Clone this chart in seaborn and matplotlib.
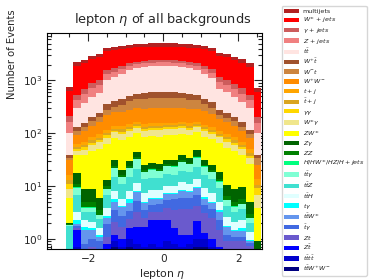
import numpy as np
import pandas as pd
import matplotlib
matplotlib.use("Agg")
import matplotlib.pyplot as plt
from matplotlib.ticker import MultipleLocator
import seaborn as sns

# 26 bins of lepton eta, width 0.2
bin_edges = list(np.linspace(-2.6, 2.6, 27))

# events per bin for every background
multijets = [120, 330, 340, 360, 400, 500, 520, 540, 560, 600, 650, 700, 720, 720, 700, 660, 610, 570, 540, 500, 400, 380, 360, 340, 300, 120]
w_jets = [420, 1350, 1450, 1650, 1750, 2000, 2000, 2000, 1990, 1950, 1900, 1900, 1880, 1880, 1900, 1900, 1950, 1990, 2000, 2000, 1750, 1700, 1550, 1450, 1300, 400]
gamma_jets = [50, 105, 135, 180, 200, 240, 245, 248, 248, 252, 254, 254, 254, 254, 254, 252, 250, 248, 245, 240, 200, 190, 170, 140, 110, 48]
z_jets = [60, 125, 165, 220, 250, 290, 295, 302, 302, 308, 311, 311, 311, 311, 311, 308, 305, 302, 295, 290, 250, 235, 210, 175, 130, 58]
ttbar = [63, 176, 220, 290, 340, 680, 760, 880, 1050, 1150, 1220, 1260, 1280, 1280, 1260, 1220, 1150, 1050, 880, 720, 420, 360, 290, 230, 180, 60]
wp_tbar = [5, 21, 28, 35, 45, 80, 85, 95, 100, 115, 125, 135, 140, 140, 135, 125, 115, 100, 90, 80, 50, 42, 35, 28, 21, 5]
wm_t = [3, 17, 22, 28, 35, 52, 70, 95, 130, 145, 155, 160, 165, 165, 160, 155, 145, 130, 95, 70, 40, 35, 28, 22, 17, 9]
ww = [15, 30, 40, 55, 70, 105, 110, 118, 125, 135, 140, 145, 146, 146, 145, 140, 135, 125, 118, 105, 75, 65, 55, 42, 30, 12]
t_j = [3, 7, 9, 11, 13, 15, 16, 16, 17, 17, 18, 18, 18, 18, 18, 18, 17, 17, 16, 15, 13, 12, 11, 9, 7, 3]
tbar_j = [2, 5, 6, 7, 8, 10, 10, 11, 11, 12, 12, 12, 12, 12, 12, 12, 12, 11, 11, 10, 8, 7, 7, 6, 5, 1.5]
gamgam = [2, 4, 5, 6, 7, 8, 8, 9, 9, 9, 10, 10, 10, 10, 10, 10, 9, 9, 9, 8, 7, 7, 6, 5, 4, 2.4]
w_gamma = [3, 8, 10, 14, 17, 20, 22, 24, 25, 26, 27, 28, 28, 28, 28, 27, 26, 25, 24, 22, 18, 16, 14, 10, 8, 2.8]
zw = [4, 21, 30, 38, 45, 50, 52, 55, 57, 58, 60, 61, 61, 61, 61, 60, 58, 57, 55, 52, 47, 43, 38, 30, 21, 3]
z_gamma = [0.1, 7, 4, 4, 2.5, 3, 7, 4, 6, 9, 5, 5, 5, 5, 6, 8, 6, 11, 6, 5, 5, 4, 4, 4, 2, 0.4]
zz = [0.05, 1.5, 1, 1, 0.6, 1, 1.5, 1, 1.5, 2, 1.2, 1.2, 1.2, 1.4, 1.4, 1.8, 1.5, 2, 1.4, 1.2, 1.2, 1, 0.8, 0.9, 0.5, 0.1]
higgs = [0.02, 0.2, 0.1, 0.1, 0.1, 0.1, 0.3, 0.2, 0.3, 0.4, 0.3, 0.3, 0.3, 0.3, 0.3, 0.4, 0.3, 0.5, 0.3, 0.3, 0.2, 0.1, 0.1, 0.1, 0.05, 0.02]
ttgamma = [0.05, 2.5, 0.6, 0.6, 0.4, 2, 7, 4, 7, 11, 5, 6, 5, 7, 7, 9, 8, 11, 7, 5, 3, 1.2, 0.8, 0.9, 0.4, 0.02]
ttz = [1.4, 3.5, 1.0, 1.2, 0.8, 3, 7, 5, 7, 10, 6, 6, 6, 7, 6, 8, 7, 10, 7, 6, 4, 1.6, 1.2, 1.4, 0.7, 0.05]
tth = [0.05, 1.0, 0.6, 0.5, 0.4, 1.2, 2.5, 1.5, 2.5, 3.5, 2.5, 2.5, 2.5, 3, 3, 3.5, 3, 4, 3, 2.5, 1.5, 0.8, 0.6, 0.7, 0.4, 0.02]
t_gamma = [0.02, 0.4, 0.2, 0.1, 0.1, 0.2, 0.6, 0.3, 0.8, 0.3, 0.2, 0.3, 0.2, 0.3, 0.2, 0.3, 0.5, 0.3, 0.6, 0.2, 0.3, 0.1, 0.1, 0.2, 0.05, 0.01]
ttw = [0.05, 0.1, 0.7, 0.5, 0.2, 0.6, 1.5, 1.3, 1.5, 2.5, 1.2, 1.2, 1.2, 1.5, 1.5, 2.0, 1.8, 2.5, 1.3, 1.1, 1.0, 0.5, 0.3, 0.3, 0.05, 0.04]
tbar_gamma = [0.05, 0.2, 0.2, 0.3, 0.3, 0.8, 1.5, 1.0, 1.0, 2.1, 1.1, 1.2, 1.3, 1.7, 2.0, 2.3, 2.2, 2.5, 1.3, 1.2, 0.8, 0.3, 0.2, 0.2, 0.1, 0.05]
zt = [0.05, 0.1, 0.1, 0.2, 0.2, 0.3, 0.9, 0.7, 0.8, 1.5, 0.8, 1.0, 1.0, 1.5, 2.0, 2.5, 2.5, 2.0, 1.8, 1.5, 0.8, 0.4, 0.5, 0.4, 0.6, 0.05]
z_tbar = [0.05, 0.8, 0.1, 0.1, 0.1, 0.2, 0.3, 0.3, 0.6, 0.9, 1.0, 1.5, 1.6, 1.4, 0.8, 0.5, 0.4, 1.2, 0.3, 0.3, 0.2, 0.1, 0.1, 0.1, 0.05, 0.04]
tttt = [0.05, 0.3, 0.1, 0.1, 0.1, 0.2, 0.2, 0.2, 0.3, 0.3, 0.3, 0.3, 0.3, 0.3, 0.3, 0.3, 0.3, 0.3, 0.3, 0.2, 0.2, 0.1, 0.1, 0.1, 0.05, 0.05]
ttww = [0.05, 0.4, 0.3, 0.3, 0.2, 0.4, 0.7, 0.5, 0.7, 0.5, 0.4, 0.5, 0.4, 0.6, 0.5, 0.4, 0.5, 0.7, 0.7, 0.5, 0.3, 0.3, 0.2, 0.3, 0.05, 0.05]

# legend order = top of the stack first
labels = ["multijets", r"$W^{\pm}$ + $jets$", r"$\gamma$ + $jets$", r"$Z$ + $jets$",
          r"$t\bar{t}$", r"$W^{+}\bar{t}$", r"$W^{-}t$", r"$W^{+}W^{-}$",
          r"$t+j$", r"$\bar{t}+j$", r"$\gamma\gamma$", r"$W^{\pm}\gamma$",
          r"$ZW^{\pm}$", r"$Z\gamma$", r"$ZZ$", r"$H/HW^{\pm}/HZ/H + jets$",
          r"$t\bar{t}\gamma$", r"$t\bar{t}Z$", r"$t\bar{t}H$", r"$t\gamma$",
          r"$t\bar{t}W^{\pm}$", r"$\bar{t}\gamma$", r"$Zt$", r"$Z\bar{t}$",
          r"$t\bar{t}t\bar{t}$", r"$t\bar{t}W^{+}W^{-}$"]
series = [multijets, w_jets, gamma_jets, z_jets, ttbar, wp_tbar, wm_t, ww,
          t_j, tbar_j, gamgam, w_gamma, zw, z_gamma, zz, higgs,
          ttgamma, ttz, tth, t_gamma, ttw, tbar_gamma, zt, z_tbar, tttt, ttww]
colors = ["firebrick", "red", "indianred", "lightcoral", "mistyrose", "sienna",
          "peru", "darkorange", "orange", "goldenrod", "gold", "khaki",
          "yellow", "darkgreen", "green", "springgreen", "aquamarine",
          "turquoise", "lightcyan", "cyan", "cornflowerblue", "royalblue",
          "slateblue", "blue", "mediumblue", "navy"]

centers = 0.5 * (np.array(bin_edges[:-1]) + np.array(bin_edges[1:]))
df = pd.DataFrame({
    "eta": np.tile(centers, len(labels)),
    "events": np.concatenate(series),
    "process": np.repeat(labels, len(centers)),
})

sns.set_style("ticks")
plt.rcParams["font.family"] = ["DejaVu Sans"]
plt.rcParams["mathtext.fontset"] = "dejavusans"

fig = plt.figure(figsize=(3.74, 2.8), dpi=100)
ax = fig.add_axes([0.126, 0.111, 0.575, 0.771])

sns.histplot(data=df, x="eta", weights="events", hue="process", hue_order=labels,
             palette=colors, multiple="stack", bins=bin_edges, element="step",
             linewidth=0, alpha=1, ax=ax)
ax.set_yscale("log")
ax.set_xlim(-3.09, 2.63)
ax.set_ylim(0.65, 7900)

ax.xaxis.set_major_locator(MultipleLocator(2))
ax.xaxis.set_minor_locator(MultipleLocator(0.5))
ax.tick_params(which="both", direction="in", top=True, right=True, labelsize=7.6, width=0.8)
ax.tick_params(which="major", length=6)
ax.tick_params(which="minor", length=3)
for s in ax.spines.values():
    s.set_linewidth(0.8)
    s.set_color("black")

ax.set_title(r"lepton $\eta$ of all backgrounds", fontsize=9.3, x=0.537, pad=7)
ax.set_xlabel(r"lepton $\eta$", fontsize=7.8, x=0.535, labelpad=2)
ax.set_ylabel("Number of Events", fontsize=7.2, y=0.9)

sns.move_legend(ax, "upper left", bbox_to_anchor=(0.753, 0.978),
                bbox_transform=fig.transFigure, title=None, fontsize=4.6,
                frameon=True, borderaxespad=0, borderpad=0.4,
                labelspacing=0.19, handlelength=2.3, handleheight=0.65,
                handletextpad=0.6)

fig.savefig("out.png", dpi=100)
